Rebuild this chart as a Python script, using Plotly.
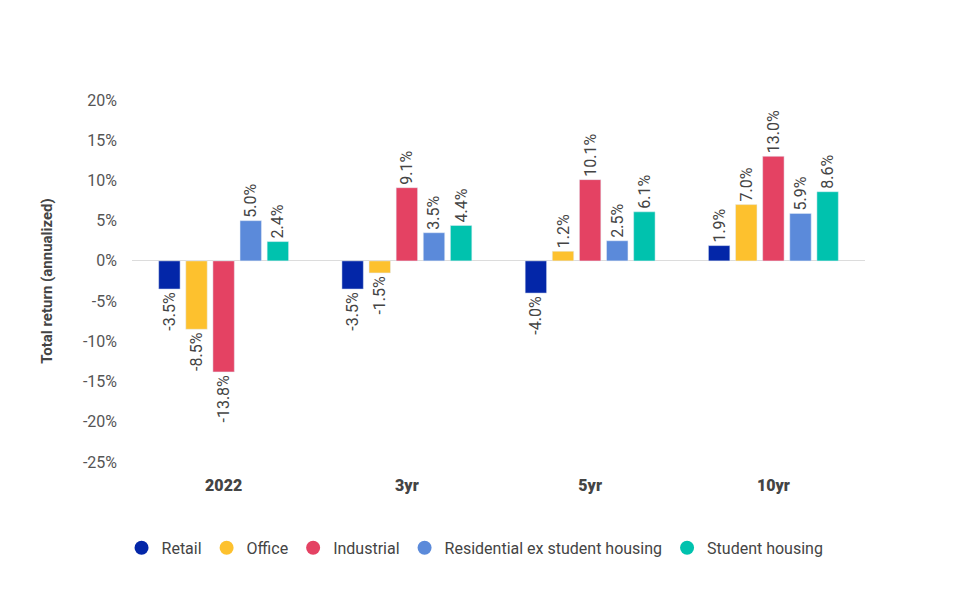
import plotly.graph_objects as go

periods = ["2022", "3yr", "5yr", "10yr"]
sectors = ["Retail", "Office", "Industrial", "Residential ex student housing", "Student housing"]
colors = ["#0326a8", "#fdc12e", "#e44263", "#5b8ada", "#00c2ae"]

retail = [-3.5, -3.5, -4.0, 1.9]
office = [-8.5, -1.5, 1.2, 7.0]
industrial = [-13.8, 9.1, 10.1, 13.0]
residential = [5.0, 3.5, 2.5, 5.9]
student = [2.4, 4.4, 6.1, 8.6]

series = [retail, office, industrial, residential, student]
tick_vals = [20, 15, 10, 5, 0, -5, -10, -15, -20, -25]
tick_text = [f"{v}%" for v in tick_vals]

fig = go.Figure()

for name, vals, col in zip(sectors, series, colors):
    fig.add_trace(go.Bar(
        x=periods, y=vals, name=name, marker_color=col, showlegend=False,
        text=[f"{v:.1f}%" for v in vals], textposition="outside", textangle=-90,
        constraintext="none", cliponaxis=False,
        textfont=dict(size=16, color="#444444"),
    ))
    # circle legend markers
    fig.add_trace(go.Scatter(
        x=[None], y=[None], mode="markers", name=name,
        marker=dict(symbol="circle", size=14, color=col),
    ))

# page body adds ~8px offset, margins are compensated for it
fig.update_layout(
    width=970, height=612,
    paper_bgcolor="white", plot_bgcolor="white",
    font=dict(family="Roboto", color="#444444"),
    margin=dict(l=124, r=113, t=92, b=158),
    barmode="group", bargap=0.26, bargroupgap=0.21,
    legend=dict(orientation="h", x=0.468, xanchor="center", y=-0.19, yanchor="top",
                font=dict(size=16, color="#444444"), itemwidth=30, tracegroupgap=0),
)
fig.update_xaxes(showgrid=False, showline=False, ticks="", automargin=False,
                 tickfont=dict(size=16, color="#444444", family="Roboto Black, Roboto"),
                 ticklabelstandoff=12)
fig.update_yaxes(range=[-25, 20], tickvals=tick_vals, ticktext=tick_text, automargin=False,
                 showgrid=False, zeroline=True, zerolinecolor="#dcdcdc", zerolinewidth=1,
                 tickfont=dict(size=16, color="#555555"), ticklabelstandoff=14,
                 title=dict(text="<b>Total return (annualized)</b>", font=dict(size=15, color="#444444"),
                            standoff=26))

fig.write_html("out.html")
